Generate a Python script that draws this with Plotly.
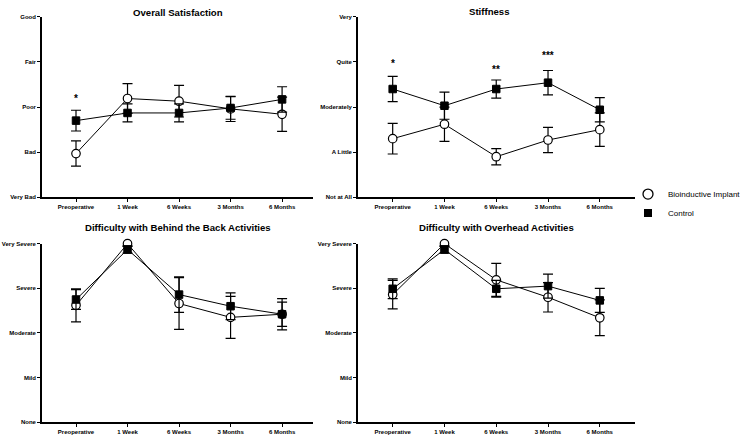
import plotly.graph_objects as go

categories = ["Preoperative", "1 Week", "6 Weeks", "3 Months", "6 Months"]

# Overall Satisfaction (0=Very Bad .. 4=Good)
sat_labels = ["Very Bad", "Bad", "Poor", "Fair", "Good"]
sat_implant = [0.97, 2.19, 2.13, 1.96, 1.84]
sat_implant_err = [0.28, 0.33, 0.35, 0.28, 0.38]
sat_control = [1.70, 1.87, 1.87, 1.98, 2.17]
sat_control_err = [0.23, 0.20, 0.20, 0.25, 0.28]

# Stiffness (0=Not at All .. 4=Very)
stf_labels = ["Not at All", "A Little", "Moderately", "Quite", "Very"]
stf_implant = [1.30, 1.62, 0.90, 1.27, 1.50]
stf_implant_err = [0.34, 0.38, 0.18, 0.28, 0.37]
stf_control = [2.40, 2.03, 2.40, 2.54, 1.94]
stf_control_err = [0.28, 0.30, 0.20, 0.27, 0.27]

# Difficulty with Behind the Back Activities (0=None .. 4=Very Severe)
diff_labels = ["None", "Mild", "Moderate", "Severe", "Very Severe"]
btb_implant = [2.62, 4.00, 2.66, 2.35, 2.42]
btb_implant_err = [0.37, 0.06, 0.58, 0.47, 0.35]
btb_control = [2.75, 3.87, 2.86, 2.60, 2.42]
btb_control_err = [0.22, 0.08, 0.40, 0.30, 0.27]

# Difficulty with Overhead Activities
ovh_implant = [2.86, 4.00, 3.19, 2.80, 2.34]
ovh_implant_err = [0.32, 0.06, 0.37, 0.33, 0.40]
ovh_control = [2.99, 3.87, 2.99, 3.05, 2.73]
ovh_control_err = [0.22, 0.08, 0.19, 0.27, 0.27]

# significance markers: (panel, category index, y value, text)
stars = [
    (1, 0, 2.18, "*"),
    (2, 0, 2.96, "*"),
    (2, 2, 2.84, "**"),
    (2, 3, 3.14, "***"),
]

titles = [
    "Overall Satisfaction",
    "Stiffness",
    "Difficulty with Behind the Back Activities",
    "Difficulty with Overhead Activities",
]

panels = [
    (sat_implant, sat_implant_err, sat_control, sat_control_err, sat_labels),
    (stf_implant, stf_implant_err, stf_control, stf_control_err, stf_labels),
    (btb_implant, btb_implant_err, btb_control, btb_control_err, diff_labels),
    (ovh_implant, ovh_implant_err, ovh_control, ovh_control_err, diff_labels),
]

W, H = 747, 444
FONT = "Liberation Sans, Arial, Helvetica, sans-serif"
xpos = list(range(len(categories)))

fig = go.Figure()

for i, (imp, imp_e, ctl, ctl_e, ylab) in enumerate(panels, start=1):
    xa = "x" if i == 1 else f"x{i}"
    ya = "y" if i == 1 else f"y{i}"
    fig.add_trace(go.Scatter(
        x=xpos, y=imp, xaxis=xa, yaxis=ya, mode="lines+markers",
        line=dict(color="black", width=1),
        marker=dict(symbol="circle", size=8.5, color="white",
                    line=dict(color="black", width=1.2)),
        error_y=dict(type="data", array=imp_e, visible=True,
                     color="black", thickness=1.2, width=5),
        showlegend=False, cliponaxis=False, hoverinfo="skip",
    ))
    fig.add_trace(go.Scatter(
        x=xpos, y=ctl, xaxis=xa, yaxis=ya, mode="lines+markers",
        line=dict(color="black", width=1),
        marker=dict(symbol="square", size=7.5, color="black",
                    line=dict(color="black", width=1)),
        error_y=dict(type="data", array=ctl_e, visible=True,
                     color="black", thickness=1.2, width=5),
        showlegend=False, cliponaxis=False, hoverinfo="skip",
    ))

# legend-only entries
fig.add_trace(go.Scatter(
    x=[None], y=[None], mode="markers", name="Bioinductive Implant",
    marker=dict(symbol="circle", size=10, color="white",
                line=dict(color="black", width=1.3)),
))
fig.add_trace(go.Scatter(
    x=[None], y=[None], mode="markers", name="Control",
    marker=dict(symbol="square", size=8, color="black"),
))

xdom_l = [42 / W, 313 / W]
xdom_r = [358 / W, 635 / W]
ydom_t = [1 - 197 / H, 1 - 14 / H]
ydom_b = [1 - 425 / H, 1 - 244 / H]

tickfont = dict(family=FONT, size=6, color="black", weight="bold")

def xaxis(dom, anchor, rng):
    return dict(domain=dom, anchor=anchor, range=rng,
                tickmode="array", tickvals=xpos, ticktext=categories,
                showline=True, linecolor="black", linewidth=1.8,
                ticks="outside", ticklen=3, tickwidth=1.2, tickcolor="black",
                showgrid=False, zeroline=False, tickfont=tickfont)

def yaxis(dom, anchor, labels):
    return dict(domain=dom, anchor=anchor, range=[0, 4],
                tickmode="array", tickvals=list(range(len(labels))), ticktext=labels,
                showline=True, linecolor="black", linewidth=1.8,
                ticks="outside", ticklen=3, tickwidth=1.2, tickcolor="black",
                showgrid=False, zeroline=False, tickfont=tickfont)

layout = dict(
    width=W, height=H,
    margin=dict(l=0, r=0, t=0, b=0),
    paper_bgcolor="white", plot_bgcolor="white",
    xaxis=xaxis(xdom_l, "y", [-0.66, 4.6]),
    yaxis=yaxis(ydom_t, "x", sat_labels),
    xaxis2=xaxis(xdom_r, "y2", [-0.67, 4.68]),
    yaxis2=yaxis(ydom_t, "x2", stf_labels),
    xaxis3=xaxis(xdom_l, "y3", [-0.66, 4.6]),
    yaxis3=yaxis(ydom_b, "x3", diff_labels),
    xaxis4=xaxis(xdom_r, "y4", [-0.67, 4.68]),
    yaxis4=yaxis(ydom_b, "x4", diff_labels),
    showlegend=True,
    hovermode=False,
    legend=dict(x=628 / W, y=1 - 179 / H, xanchor="left", yanchor="top",
                font=dict(family=FONT, size=8, color="black"),
                bgcolor="rgba(0,0,0,0)", tracegroupgap=2, itemwidth=30),
)
fig.update_layout(**layout)

title_pos = [(178, 10), (489, 9), (178, 228), (497, 228)]
for t, (px, py) in zip(titles, title_pos):
    fig.add_annotation(text=t, x=px / W, y=1 - py / H, xref="paper", yref="paper",
                       xanchor="center", yanchor="middle", showarrow=False,
                       font=dict(family=FONT, size=9.6, color="black", weight="bold"))

for panel, ci, yv, txt in stars:
    xr = "x" if panel == 1 else f"x{panel}"
    yr = "y" if panel == 1 else f"y{panel}"
    fig.add_annotation(text=txt, x=xpos[ci], y=yv, xref=xr, yref=yr,
                       xanchor="center", yanchor="middle", showarrow=False,
                       font=dict(family=FONT, size=10, color="black", weight="bold"))

fig.write_html("out.html",
               config={"displayModeBar": False},
               post_script="document.body.style.margin='0';document.body.style.overflow='hidden';")
